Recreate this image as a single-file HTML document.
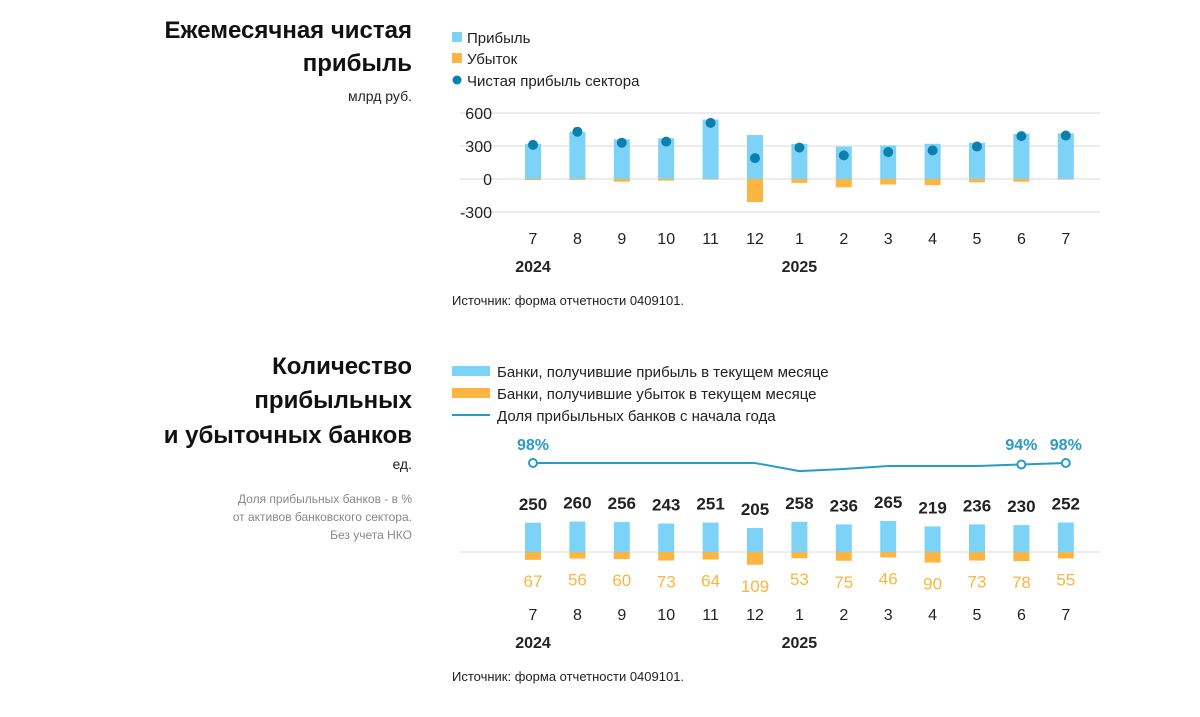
<!DOCTYPE html>
<html><head><meta charset="utf-8"><style>
body{margin:0;width:1200px;height:712px;background:#fff;font-family:"Liberation Sans","DejaVu Sans",sans-serif;overflow:hidden}
svg text{font-family:"Liberation Sans","DejaVu Sans",sans-serif}
</style></head><body>
<svg id="s" width="1200" height="712">
<g text-anchor="end" fill="#111" font-weight="bold" font-size="24">
<text x="412" y="38">Ежемесячная чистая</text><text x="412" y="71">прибыль</text></g>
<text x="412" y="101" text-anchor="end" font-size="14" fill="#222">млрд руб.</text>
<g font-size="15" fill="#222">
<rect x="452" y="32" width="10" height="10" fill="#7dd3f7"/><text x="467" y="43">Прибыль</text>
<rect x="452" y="53" width="10" height="10" fill="#fbb540"/><text x="467" y="64">Убыток</text>
<circle cx="457" cy="80" r="4.5" fill="#0b7fae"/><text x="467" y="86">Чистая прибыль сектора</text></g>
<g id="c1"></g>
<text x="452" y="305" font-size="13" fill="#222">Источник: форма отчетности 0409101.</text>
<g text-anchor="end" fill="#111" font-weight="bold" font-size="24">
<text x="412" y="374">Количество</text><text x="412" y="408">прибыльных</text><text x="412" y="443">и убыточных банков</text></g>
<text x="412" y="469" text-anchor="end" font-size="14" fill="#222">ед.</text>
<g text-anchor="end" font-size="12" fill="#888">
<text x="412" y="503">Доля прибыльных банков - в %</text><text x="412" y="521">от активов банковского сектора.</text><text x="412" y="539">Без учета НКО</text></g>
<g font-size="15" fill="#222">
<rect x="452" y="366" width="38" height="10" fill="#7dd3f7"/><text x="497" y="377">Банки, получившие прибыль в текущем месяце</text>
<rect x="452" y="388" width="38" height="10" fill="#fbb540"/><text x="497" y="399">Банки, получившие убыток в текущем месяце</text>
<line x1="452" y1="415" x2="490" y2="415" stroke="#2a9ac9" stroke-width="2"/><text x="497" y="421">Доля прибыльных банков с начала года</text></g>
<g id="c2"></g>
<text x="452" y="681" font-size="13" fill="#222">Источник: форма отчетности 0409101.</text>
</svg>
<script>
const months=["7","8","9","10","11","12","1","2","3","4","5","6","7"];
const profit=[320,430,360,370,540,400,320,295,305,320,330,410,415];
const loss=[-10,-8,-25,-15,-5,-210,-35,-75,-50,-55,-30,-25,-5];
const net=[310,430,330,340,510,190,285,215,245,260,295,390,395];
const yTicks=[600,300,0,-300];
const banksProfit=[250,260,256,243,251,205,258,236,265,219,236,230,252];
const banksLoss=[67,56,60,73,64,109,53,75,46,90,73,78,55];
const share=[98,98,98,98,98,98,95.3,96,97,97,97,97.5,98];
const shareLabels=["98%","","","","","","","","","","","94%","98%"];
const NS="http://www.w3.org/2000/svg";
function mk(p,t,a,txt){const e=document.createElementNS(NS,t);for(const k in a)e.setAttribute(k,a[k]);if(txt!==undefined)e.textContent=txt;p.appendChild(e);return e;}
const x=i=>533+i*44.4;
const y1=v=>179-v*0.11;
const c1=document.getElementById('c1');
yTicks.forEach(t=>{
 const l=mk(c1,'line',{x1:460,x2:1100,y1:y1(t),y2:y1(t),stroke:'#e6e6e6','stroke-width':1.5});
 
 
 const tx=mk(c1,'text',{x:492,y:y1(t)+6,'text-anchor':'end','font-size':16,fill:'#222'},t);
 
 
});
months.forEach((m,i)=>{
 const b=mk(c1,'rect',{x:x(i)-8,y:y1(profit[i]),width:16,height:y1(0)-y1(profit[i]),fill:'#7dd3f7'});
 
 
 const o=mk(c1,'rect',{x:x(i)-8,y:y1(0),width:16,height:y1(loss[i])-y1(0),fill:'#fbb540'});
 
 
 const d=mk(c1,'circle',{cx:x(i),cy:y1(net[i]),r:5,fill:'#0b7fae'});
 
 
 const t=mk(c1,'text',{x:x(i),y:244,'text-anchor':'middle','font-size':16,fill:'#222'},m);
 
 
});
[["2024",0],["2025",6]].forEach(([yr,i])=>{const t=mk(c1,'text',{x:x(i),y:272,'text-anchor':'middle','font-size':16,'font-weight':'bold',fill:'#222'},yr);
 
 });
const c2=document.getElementById('c2');
const base=552, bs=0.117;
const ys=v=>463+(98-v)*3;
const bl=mk(c2,'line',{x1:460,x2:1100,y1:base,y2:base,stroke:'#e6e6e6','stroke-width':1.5});


const pl=mk(c2,'polyline',{points:share.map((v,i)=>x(i)+','+ys(v)).join(' '),fill:'none',stroke:'#2a9ac9','stroke-width':2});


months.forEach((m,i)=>{
 const h=banksProfit[i]*bs, hl=banksLoss[i]*bs;
 const b=mk(c2,'rect',{x:x(i)-8,y:base-h,width:16,height:h,fill:'#7dd3f7'});
 
 
 const o=mk(c2,'rect',{x:x(i)-8,y:base,width:16,height:hl,fill:'#fbb540'});
 
 
 const t1=mk(c2,'text',{x:x(i),y:base-h-13,'text-anchor':'middle','font-size':17,'font-weight':'bold',fill:'#222'},banksProfit[i]);
 
 
 const t2=mk(c2,'text',{x:x(i),y:base+hl+27,'text-anchor':'middle','font-size':17,fill:'#fbb540'},banksLoss[i]);
 
 
 const t=mk(c2,'text',{x:x(i),y:620,'text-anchor':'middle','font-size':16,fill:'#222'},m);
 
 
 if(shareLabels[i]){
  const c=mk(c2,'circle',{cx:x(i),cy:ys(share[i]),r:4,fill:'#fff',stroke:'#2a9ac9','stroke-width':2});
  
  
  const s=mk(c2,'text',{x:x(i),y:450,'text-anchor':'middle','font-size':16,'font-weight':'bold',fill:'#2a9ac9'},shareLabels[i]);
  
  
 }
});
[["2024",0],["2025",6]].forEach(([yr,i])=>{const t=mk(c2,'text',{x:x(i),y:648,'text-anchor':'middle','font-size':16,'font-weight':'bold',fill:'#222'},yr);
 
 });
</script>
</body></html>
